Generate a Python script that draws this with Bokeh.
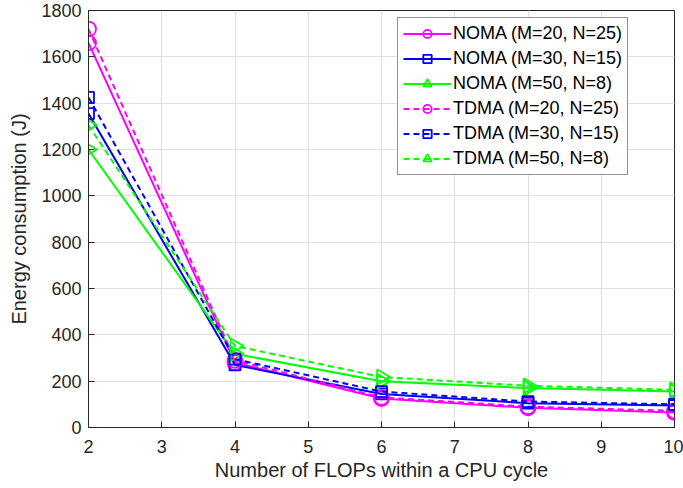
from bokeh.plotting import figure
from bokeh.models import Legend, LegendItem, Range1d, FixedTicker, ColumnDataSource
from bokeh.embed import file_html
from bokeh.resources import INLINE

flops = [2, 4, 6, 8, 10]
noma_20_25 = [1660, 280, 125, 85, 65]
noma_30_15 = [1355, 270, 145, 105, 95]
noma_50_8 = [1200, 318, 200, 170, 155]
tdma_20_25 = [1720, 290, 130, 90, 72]
tdma_30_15 = [1425, 295, 155, 112, 100]
tdma_50_8 = [1305, 352, 218, 180, 163]
labels = ["NOMA (M=20, N=25)", "NOMA (M=30, N=15)", "NOMA (M=50, N=8)",
          "TDMA (M=20, N=25)", "TDMA (M=30, N=15)", "TDMA (M=50, N=8)"]
x_ticks = [2, 3, 4, 5, 6, 7, 8, 9, 10]
y_ticks = [0, 200, 400, 600, 800, 1000, 1200, 1400, 1600, 1800]

FONT = "Liberation Sans"
TXT = "#262626"

p = figure(width=683, height=488, output_backend="svg", toolbar_location=None,
           x_range=Range1d(2, 10), y_range=Range1d(0, 1800),
           min_border_left=88, min_border_right=9, min_border_top=10, min_border_bottom=61)
p.outline_line_color = TXT
p.outline_line_width = 1
p.background_fill_color = "white"
p.border_fill_color = "white"

for ax in (p.xaxis[0], p.yaxis[0]):
    ax.major_tick_in = 6
    ax.major_tick_out = 0
    ax.minor_tick_line_color = None
    ax.axis_line_color = TXT
    ax.major_tick_line_color = TXT
    ax.major_label_text_font = FONT
    ax.major_label_text_font_size = "18px"
    ax.major_label_text_color = TXT
    ax.axis_label_text_font = FONT
    ax.axis_label_text_font_size = "20px"
    ax.axis_label_text_font_style = "normal"
    ax.axis_label_text_color = TXT
p.xaxis.ticker = FixedTicker(ticks=x_ticks)
p.yaxis.ticker = FixedTicker(ticks=y_ticks)
p.xaxis.axis_label = "Number of FLOPs within a CPU cycle"
p.yaxis.axis_label = "Energy consumption (J)"
p.xaxis.major_label_standoff = 12
p.yaxis.major_label_standoff = 7
p.xaxis.axis_label_standoff = 3
p.yaxis.axis_label_standoff = 8

p.grid.grid_line_color = "#dfdfdf"
p.xgrid.ticker = FixedTicker(ticks=x_ticks)
p.ygrid.ticker = FixedTicker(ticks=y_ticks)

series = [
    (noma_20_25, "#ff00ff", "solid", "circle", 15),
    (noma_30_15, "#0000ff", "solid", "square", 11),
    (noma_50_8, "#00ff00", "solid", "triangle", 15),
    (tdma_20_25, "#ff00ff", "6 4", "circle", 15),
    (tdma_30_15, "#0000ff", "6 4", "square", 11),
    (tdma_50_8, "#00ff00", "6 4", "triangle", 15),
]

items = []
for (ys, col, dash, mk, sz), lab in zip(series, labels):
    ang = -1.5708 if mk == "triangle" else 0.0
    src = ColumnDataSource(dict(x=flops, y=ys, a=[ang] * len(flops)))
    ln = p.line("x", "y", source=src, line_color=col, line_width=2, line_dash=dash)
    sc = p.scatter("x", "y", source=src, marker=mk, size=sz, line_color=col, line_width=1.8,
                   fill_color=None, angle="a")
    items.append(LegendItem(label=lab, renderers=[ln, sc], index=0))

leg = Legend(items=items, location=(309, 252))
leg.label_text_font = FONT
leg.label_text_font_size = "18px"
leg.label_text_color = "black"
leg.glyph_width = 48
leg.glyph_height = 21
leg.label_height = 21
leg.spacing = 4
leg.padding = 5
leg.margin = 0
leg.label_standoff = 2
leg.border_line_color = TXT
leg.border_line_width = 1
leg.background_fill_color = "white"
leg.background_fill_alpha = 1
p.add_layout(leg, "center")

open("out.html", "w").write(file_html(p, INLINE))
